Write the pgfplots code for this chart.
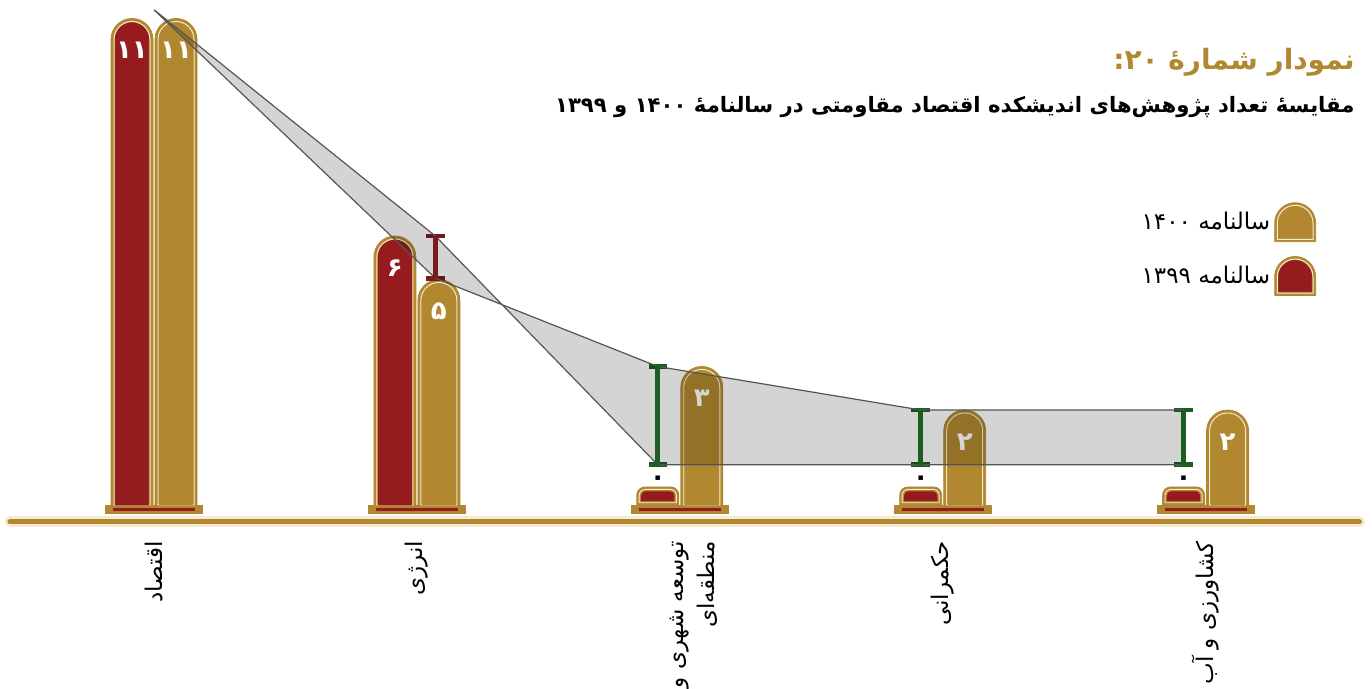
\documentclass[border=0pt]{standalone}
\usepackage{fontspec}
\usepackage{pgfplots}
\usepackage{pgfplotstable}
\pgfplotsset{compat=1.18}
\TeXXeTstate=1
\newfontfamily\fa[Script=Arabic]{DejaVu Sans}

\definecolor{goldc}{HTML}{B18830}
\definecolor{redc}{HTML}{961B1E}
\definecolor{creamc}{HTML}{F6EBD2}
\definecolor{errred}{HTML}{7A1A1C}
\definecolor{errgreen}{HTML}{1B5E20}
\definecolor{bandline}{HTML}{555555}

\pgfdeclareplotmark{nothing}{}
\pgfdeclareplotmark{pedestal}{%
  \pgfsetfillcolor{goldc}%
  \pgfpathrectanglecorners{\pgfpoint{-24.5pt}{-2.25pt}}{\pgfpoint{24.5pt}{2.25pt}}\pgfusepath{fill}%
  \pgfsetfillcolor{redc}%
  \pgfpathrectanglecorners{\pgfpoint{-20.5pt}{-0.55pt}}{\pgfpoint{20.5pt}{0.55pt}}\pgfusepath{fill}}

% arch outline: left, right, top, bottom, radius
\newcommand\archpath[5]{(#1,#4) -- (#1,{#3-#5}) arc[start angle=180,end angle=90,radius=#5] -- ({#2-#5},#3) arc[start angle=90,end angle=0,radius=#5] -- (#2,#4) -- cycle}

\pgfplotsset{
  pillar/.style={
    only marks, mark=nothing, scatter, forget plot,
    visualization depends on={rawy \as \val},
    scatter/@pre marker code/.code={%
      \ifdim\val pt<0.01pt
        \fill[goldc] \archpath{-10.5pt}{10.5pt}{5pt}{-4pt}{4pt};
        \draw[creamc, line width=0.45pt] \archpath{-9.3pt}{9.3pt}{3.8pt}{-2.9pt}{3pt};
        \fill[#1] \archpath{-8.1pt}{8.1pt}{2.6pt}{-1.9pt}{2pt};
      \else
        \pgfmathsetlengthmacro\hh{-(\val+0.184)*21.75pt}%
        \fill[goldc] \archpath{-10.5pt}{10.5pt}{0pt}{\hh}{10.5pt};
        \draw[creamc, line width=0.5pt] \archpath{-9pt}{9pt}{-1.5pt}{\hh}{9pt};
        \fill[#1] \archpath{-8.35pt}{8.35pt}{-2.15pt}{\hh}{8.35pt};
      \fi
    },
    scatter/@post marker code/.code={},
  },
  inlabel/.style={
    only marks, mark=nothing, forget plot, on layer=axis foreground,
    point meta=explicit symbolic,
    nodes near coords, nodes near coords align={anchor=center},
    every node near coord/.append style={font=\fa\bfseries\fontsize{13}{13}\selectfont,
      text=white, anchor=center, yshift=-16pt},
  },
  zerolabel/.style={
    only marks, mark=nothing, forget plot, on layer=axis foreground,
    point meta=explicit symbolic,
    nodes near coords, nodes near coords align={anchor=center},
    every node near coord/.append style={font=\fa\bfseries\fontsize{13}{13}\selectfont,
      text=black, anchor=center, yshift=8pt},
  },
  errbar/.style={forget plot, on layer=axis foreground, line width=2.4pt, color=#1,
    mark=-, mark size=4.6pt, mark options={line width=2.4pt, solid}},
}

% value labels are Persian digits
\pgfplotstableread{
cat v1399 v1400 l1399 l1400
0 11 11 ۱۱ ۱۱
1 6 5 ۶ ۵
2 0 3 ۰ ۳
3 0 2 ۰ ۲
4 0 2 ۰ ۲
}\research

\begin{document}
\begin{tikzpicture}
\begin{axis}[
  set layers,
  at={(0,0)}, anchor=south west,
  width=686pt, height=344.5pt, scale only axis,
  xmin=-0.5858, xmax=4.633, ymin=-4.414, ymax=11.425,
  clip=false,
  axis line style={draw=none},
  xtick={0,1,2,3,4},
  xticklabels={
    {\beginR اقتصاد\endR},
    {\beginR انرژی\endR},
    {\beginR توسعه شهری و\endR\llap{\raisebox{-1.35em}[0pt][0pt]{\beginR منطقه‌ای\endR}}},
    {\beginR حکمرانی\endR},
    {\beginR کشاورزی و آب\endR}},
  major tick length=0pt,
  ytick=\empty,
  xticklabel style={yshift=77.5pt, rotate=90, anchor=east, font=\fa\fontsize{11.5}{13}\selectfont},
  legend style={at={(0.9595,0.707)}, anchor=north east, draw=none, fill=none,
    inner sep=0pt, row sep=7pt, font=\fa\fontsize{11.5}{13}\selectfont},
  legend plot pos=right,
  legend cell align=right,
]
\addlegendimage{legend image code/.code={%
  \fill[goldc] \archpath{0pt}{20.5pt}{10pt}{-9.5pt}{10.25pt};
  \draw[creamc, line width=0.5pt] \archpath{1.3pt}{19.2pt}{8.7pt}{-8.3pt}{8.95pt};}}
\addlegendentry{\beginR سالنامه ۱۴۰۰\endR}
\addlegendimage{legend image code/.code={%
  \fill[goldc] \archpath{0pt}{20.5pt}{10pt}{-9.5pt}{10.25pt};
  \draw[creamc, line width=0.5pt] \archpath{1.3pt}{19.2pt}{8.7pt}{-8.3pt}{8.95pt};
  \fill[redc] \archpath{2pt}{18.5pt}{8pt}{-7.6pt}{8.25pt};}}
\addlegendentry{\beginR سالنامه ۱۳۹۹\endR}

% base line
\draw[line cap=round, line width=5.4pt, creamc] (axis cs:-0.548,-0.57) -- (axis cs:4.585,-0.57);
\draw[line cap=round, line width=2.6pt, goldc] (axis cs:-0.548,-0.57) -- (axis cs:4.585,-0.57);

% pedestals
\addplot[only marks, mark=pedestal, forget plot] table[x=cat, y expr=-0.287] {\research};

% bars
\addplot[pillar=redc] table[x expr=\thisrow{cat}-0.0837, y=v1399] {\research};
\addplot[pillar=goldc] table[x expr=\thisrow{cat}+0.0837, y=v1400] {\research};

% band between the two series, laid over the bars
\addplot[forget plot, on layer=axis foreground, fill=black, fill opacity=0.17, draw=bandline,
  line width=0.6pt, line join=round]
  coordinates {(0,11.2) (1.07,6) (1.916,0.74) (2.916,0.74) (3.916,0.74)
               (3.916,2) (2.916,2) (1.916,3) (1.07,5.03) (0,11.2)};

% difference markers
\addplot[errbar=errred] coordinates {(1.07,5.03) (1.07,6)};
\addplot[errbar=errgreen] coordinates {(1.916,0.74) (1.916,3)};
\addplot[errbar=errgreen] coordinates {(2.916,0.74) (2.916,2)};
\addplot[errbar=errgreen] coordinates {(3.916,0.74) (3.916,2)};

% value labels
\addplot[inlabel, skip coords between index={2}{5}]
  table[x expr=\thisrow{cat}-0.0837, y=v1399, meta=l1399] {\research};
\addplot[zerolabel, skip coords between index={0}{2}]
  table[x expr=\thisrow{cat}-0.0837, y=v1399, meta=l1399] {\research};
\addplot[inlabel]
  table[x expr=\thisrow{cat}+0.0837, y=v1400, meta=l1400] {\research};

% titles
\node[anchor=east, inner sep=0pt, text=goldc, font=\fa\bfseries\fontsize{14}{16}\selectfont]
  at (rel axis cs:0.9876,0.910) {\beginR نمودار شمارهٔ ۲۰:\endR};
\node[anchor=east, inner sep=0pt, text=black, font=\fa\bfseries\fontsize{10.6}{12}\selectfont]
  at (rel axis cs:0.9876,0.845) {\beginR مقایسهٔ تعداد پژوهش‌های اندیشکده اقتصاد مقاومتی در سالنامهٔ ۱۴۰۰ و ۱۳۹۹\endR};
\end{axis}
\pgfresetboundingbox
\useasboundingbox (0,0) rectangle (686pt,344.5pt);
\end{tikzpicture}
\end{document}
